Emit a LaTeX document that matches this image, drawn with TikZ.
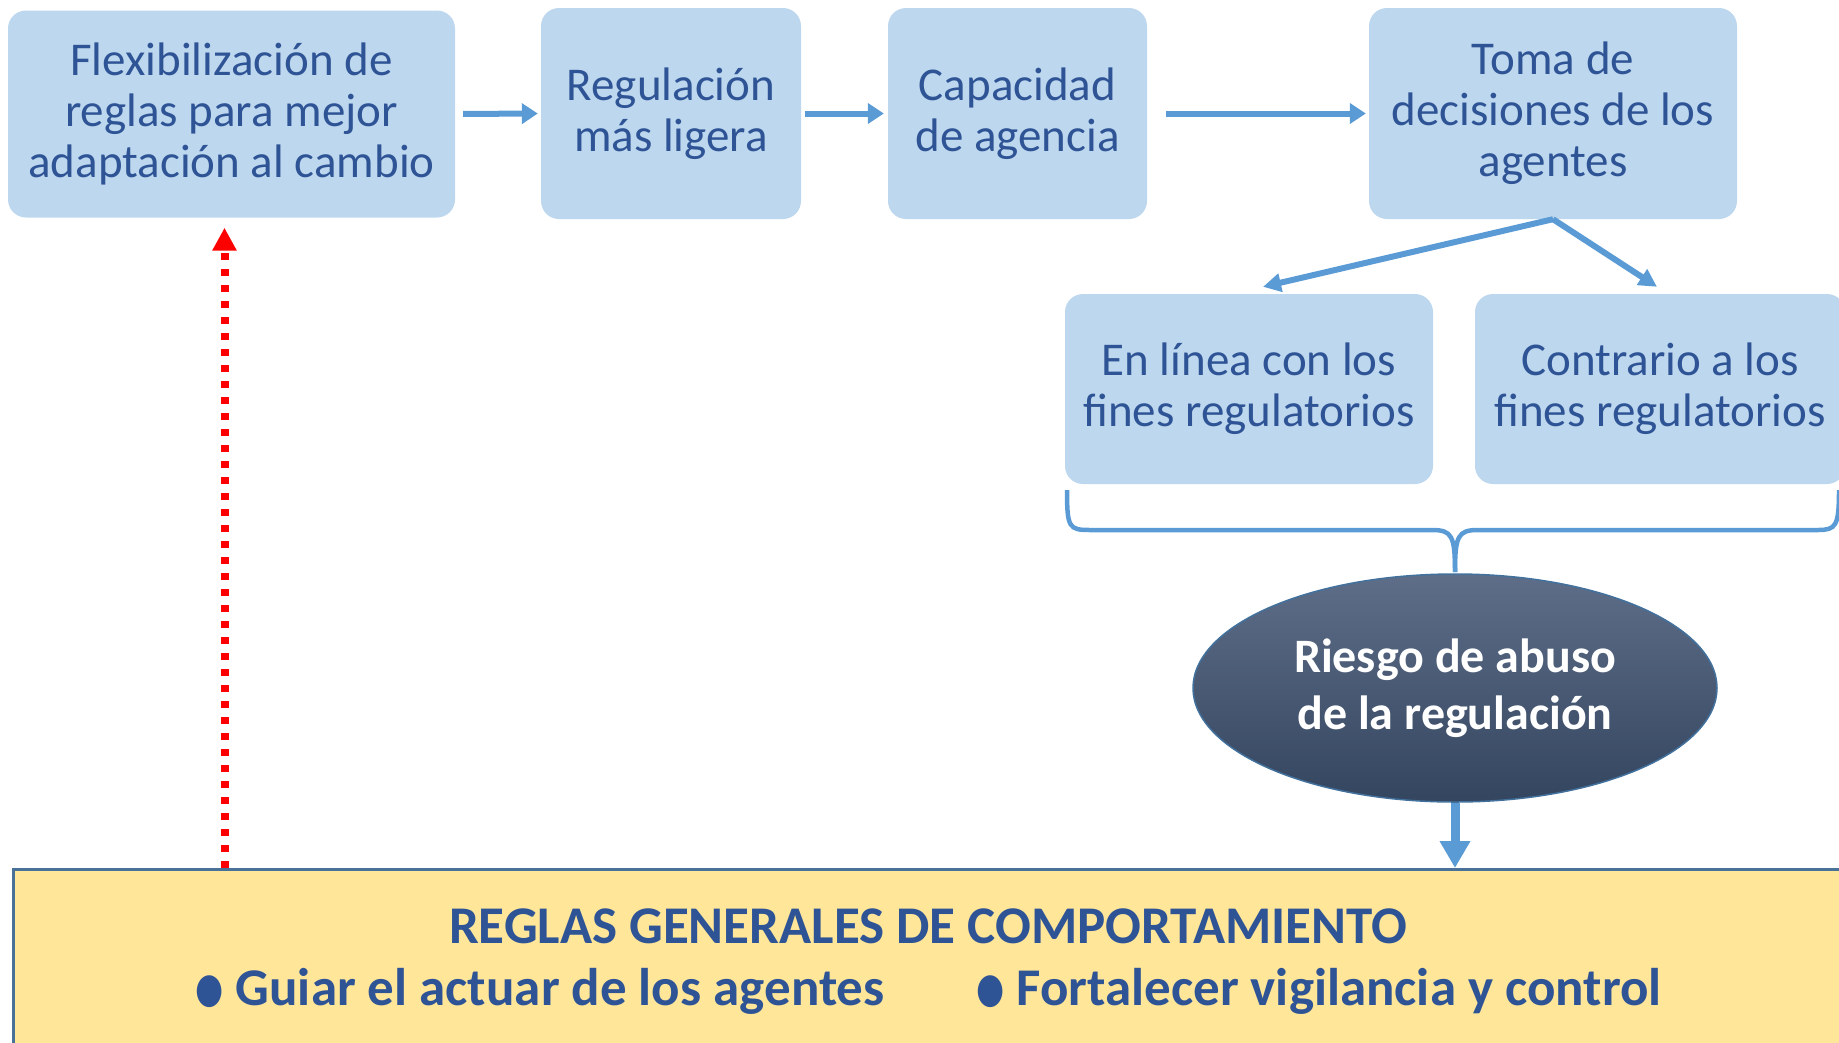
\documentclass[tikz,border=0pt]{standalone}
\usepackage{fontspec}
\setmainfont{Carlito}
\newfontfamily\simbolos{DejaVu Sans}
\usetikzlibrary{shapes.geometric}
\usetikzlibrary{arrows.meta}
\definecolor{cajaazul}{HTML}{BDD7EE}
\definecolor{textoazul}{HTML}{2F5496}
\definecolor{flechaazul}{HTML}{5B9BD5}
\definecolor{elipsearriba}{HTML}{5E6E89}
\definecolor{elipseabajo}{HTML}{344560}
\definecolor{elipseborde}{HTML}{41719C}
\definecolor{amarillo}{HTML}{FFE699}
\definecolor{bordefondo}{HTML}{4A7298}
\newcommand{\punto}{\raisebox{3pt}{\scalebox{0.85}[1.1]{\simbolos\fontsize{38}{40}\selectfont ●}}}
\tikzset{
  caja/.style={rectangle, rounded corners=18pt, fill=cajaazul, text=textoazul, align=center, inner sep=0pt, font=\fontsize{47}{51}\selectfont},
  flecha/.style={draw=flechaazul, line width=6pt, -{Triangle[length=16pt,width=20pt]}},
  llave/.style={draw=flechaazul, line width=4.5pt},
  textofondo/.style={text=textoazul, font=\fontsize{53}{60}\selectfont\bfseries, inner sep=0pt}
}

\begin{document}
\begin{tikzpicture}[x=1pt,y=-1pt]
        \useasboundingbox (0,0) rectangle (1839,1042);
        % fila de arriba
        \node[caja, minimum width=447, minimum height=207] (flex) at (231.5,114) {Flexibilización de\\reglas para mejor\\adaptación al cambio};
        \node[caja, minimum width=260, minimum height=211] (ligera) at (671,113.5) {Regulación\\más ligera};
        \node[caja, minimum width=259, minimum height=211] (agencia) at (1017.5,113.5) {Capacidad\\de agencia};
        \node[caja, minimum width=368, minimum height=211] (toma) at (1553,113.5) {Toma de\\decisiones de los\\agentes};
        % las dos salidas
        \node[caja, minimum width=368, minimum height=190] (linea) at (1249,389) {En línea con los\\fines regulatorios};
        \node[caja, minimum width=370, minimum height=190] (contrario) at (1660,389) {Contrario a los\\fines regulatorios};
        % elipse y fondo
        \node[ellipse, minimum width=524, minimum height=228, top color=elipsearriba, bottom color=elipseabajo, draw=elipseborde, line width=1.5pt, text=white, align=center, inner sep=0pt, font=\fontsize{48}{57}\selectfont\bfseries] (riesgo) at (1455,688) {Riesgo de abuso\\de la regulación};
        \node[rectangle, fill=amarillo, draw=bordefondo, line width=3pt, minimum width=1840, minimum height=190, anchor=north west, inner sep=0pt] (reglas) at (12,868) {};
        \node[textofondo] (titulo) at (928,926) {REGLAS GENERALES DE COMPORTAMIENTO};
        \node[textofondo] (guiar) at (540,991) {\punto\ Guiar el actuar de los agentes};
        \node[textofondo] (fortalecer) at (1319,991) {\punto\ Fortalecer vigilancia y control};
        % flechas
        \draw[flecha, shorten <=8pt, shorten >=3pt] (flex.east) -- (ligera.west);
        \draw[flecha, shorten <=4pt, shorten >=4pt] (ligera.east) -- (agencia.west);
        \draw[flecha, shorten <=19pt, shorten >=3pt] (agencia.east) -- (toma.west);
        \draw[flecha, -{Triangle[length=18pt,width=18pt]}] (toma.south) -- ([xshift=14pt,yshift=7pt]linea.north);
        \draw[flecha, -{Triangle[length=18pt,width=18pt]}] (toma.south) -- ([xshift=-3pt,yshift=7pt]contrario.north);
        \draw[llave] (1067,490) .. controls (1067,528) and (1069,530) .. (1090,530) -- (1432,530) .. controls (1452,530) and (1455,536) .. (1455,572);
        \draw[llave] (1455,572) .. controls (1455,536) and (1458,530) .. (1478,530) -- (1818,530) .. controls (1836,530) and (1839,526) .. (1839,490);
        \draw[draw=flechaazul, line width=9pt, -{Triangle[length=27pt,width=29pt]}] (riesgo.south) -- (riesgo.south |- reglas.north);
        \draw[draw=red, line width=8pt, dash pattern=on 7pt off 9pt, -{Triangle[length=23pt,width=23pt]}, shorten >=10pt] ([xshift=-7pt]flex.south |- reglas.north) -- ([xshift=-7pt]flex.south);
    \end{tikzpicture}
\end{document}
